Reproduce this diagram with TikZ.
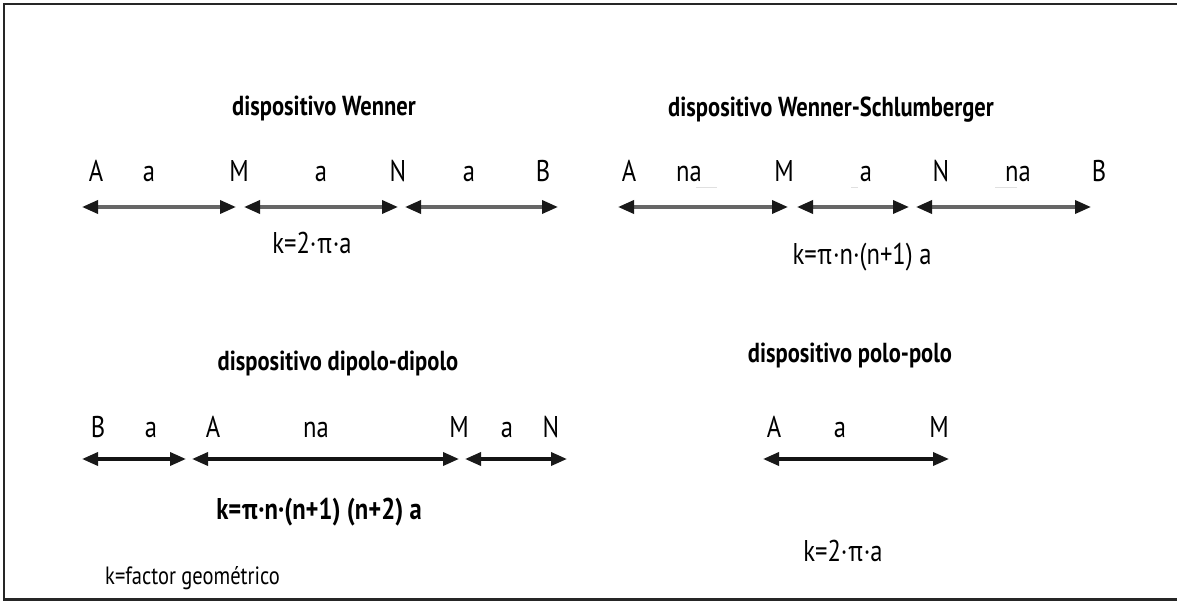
\documentclass[tikz,border=0pt]{standalone}
\usepackage{fontspec}
\setmainfont{PT Sans}[FakeStretch=0.82]
\usetikzlibrary{arrows.meta}
\begin{document}
\begin{tikzpicture}[x=1pt,y=-1pt,
  title/.style={font=\fontsize{27.5}{32}\selectfont\bfseries, inner sep=0pt, anchor=base},
  lab/.style={font=\fontsize{30}{34}\selectfont, inner sep=0pt, anchor=base},
  formula/.style={font=\fontsize{30}{34}\selectfont, inner sep=0pt, anchor=base},
  note/.style={font=\fontsize{25}{29}\selectfont, inner sep=0pt, anchor=base west},
  tipA/.tip={Triangle[length=16pt,width=13pt,color=black!90]},
  dimgray/.style={line width=3.5pt, draw=black!60, tipA-tipA},
  dimblack/.style={line width=3.5pt, draw=black!92, tipA-tipA},
  frameline/.style={line width=2.5pt, draw=black!85},
  smudge/.style={line width=1pt, draw=black!12}]
\useasboundingbox (0,0) rectangle (1177,601);
% frame
\coordinate (f1) at (1177,4);
\coordinate (f2) at (4,4);
\coordinate (f3) at (4,599.5);
\coordinate (f4) at (1177,599.5);
\draw[frameline] (f1) -- (f2) -- (f3) -- (f4);

% ---------- Wenner ----------
\node[title] (t1) at (324,116) {dispositivo Wenner};
\node[lab] (w1) at (96,182) {A};
\node[lab] (w2) at (149,182) {a};
\node[lab] (w3) at (239,182) {M};
\node[lab] (w4) at (321,182) {a};
\node[lab] (w5) at (398,182) {N};
\node[lab] (w6) at (469,182) {a};
\node[lab] (w7) at (543,182) {B};
\coordinate (wa1) at (82,207);  \coordinate (wb1) at (236,207);
\coordinate (wa2) at (244,207); \coordinate (wb2) at (398,207);
\coordinate (wa3) at (405,207); \coordinate (wb3) at (558,207);
\draw[dimgray] (wa1) -- (wb1);
\draw[dimgray] (wa2) -- (wb2);
\draw[dimgray] (wa3) -- (wb3);
\node[formula] (k1) at (312,254) {k=2·π·a};

% ---------- Wenner-Schlumberger ----------
\node[title] (t2) at (831,117) {dispositivo Wenner-Schlumberger};
\node[lab] (s1) at (629,182) {A};
\node[lab] (s2) at (689,182) {na};
\node[lab] (s3) at (784,182) {M};
\node[lab] (s4) at (866,182) {a};
\node[lab] (s5) at (941,182) {N};
\node[lab] (s6) at (1018,182) {na};
\node[lab] (s7) at (1099,182) {B};
\coordinate (u1a) at (696,188); \coordinate (u1b) at (717,188);
\coordinate (u2a) at (851,188); \coordinate (u2b) at (858,188);
\coordinate (u3a) at (995,188); \coordinate (u3b) at (1017,188);
\draw[smudge] (u1a) -- (u1b);
\draw[smudge] (u2a) -- (u2b);
\draw[smudge] (u3a) -- (u3b);
\coordinate (sa1) at (618,207); \coordinate (sb1) at (788,207);
\coordinate (sa2) at (797,207); \coordinate (sb2) at (909,207);
\coordinate (sa3) at (916,207); \coordinate (sb3) at (1091,207);
\draw[dimgray] (sa1) -- (sb1);
\draw[dimgray] (sa2) -- (sb2);
\draw[dimgray] (sa3) -- (sb3);
\node[formula] (k2) at (862,265) {k=π·n·(n+1) a};

% ---------- dipolo-dipolo ----------
\node[title] (t3) at (338,370) {dispositivo dipolo-dipolo};
\node[lab] (d1) at (98,437) {B};
\node[lab] (d2) at (151,437) {a};
\node[lab] (d3) at (213,437) {A};
\node[lab] (d4) at (316,437) {na};
\node[lab] (d5) at (459,437) {M};
\node[lab] (d6) at (507,437) {a};
\node[lab] (d7) at (551,437) {N};
\coordinate (da1) at (82,459);  \coordinate (db1) at (186,459);
\coordinate (da2) at (192,459); \coordinate (db2) at (459,459);
\coordinate (da3) at (465,459); \coordinate (db3) at (567,459);
\draw[dimblack] (da1) -- (db1);
\draw[dimblack] (da2) -- (db2);
\draw[dimblack] (da3) -- (db3);
\node[formula, font=\fontsize{30}{34}\selectfont\bfseries] (k3) at (319,519) {k=π·n·(n+1) (n+2) a};
\node[note] (kn) at (105,584) {k=factor geométrico};

% ---------- polo-polo ----------
\node[title] (t4) at (850,362) {dispositivo polo-polo};
\node[lab] (p1) at (774,437) {A};
\node[lab] (p2) at (840,437) {a};
\node[lab] (p3) at (939,437) {M};
\coordinate (pa1) at (763,459); \coordinate (pb1) at (949,459);
\draw[dimblack] (pa1) -- (pb1);
\node[formula] (k4) at (843,561) {k=2·π·a};
\end{tikzpicture}
\end{document}
